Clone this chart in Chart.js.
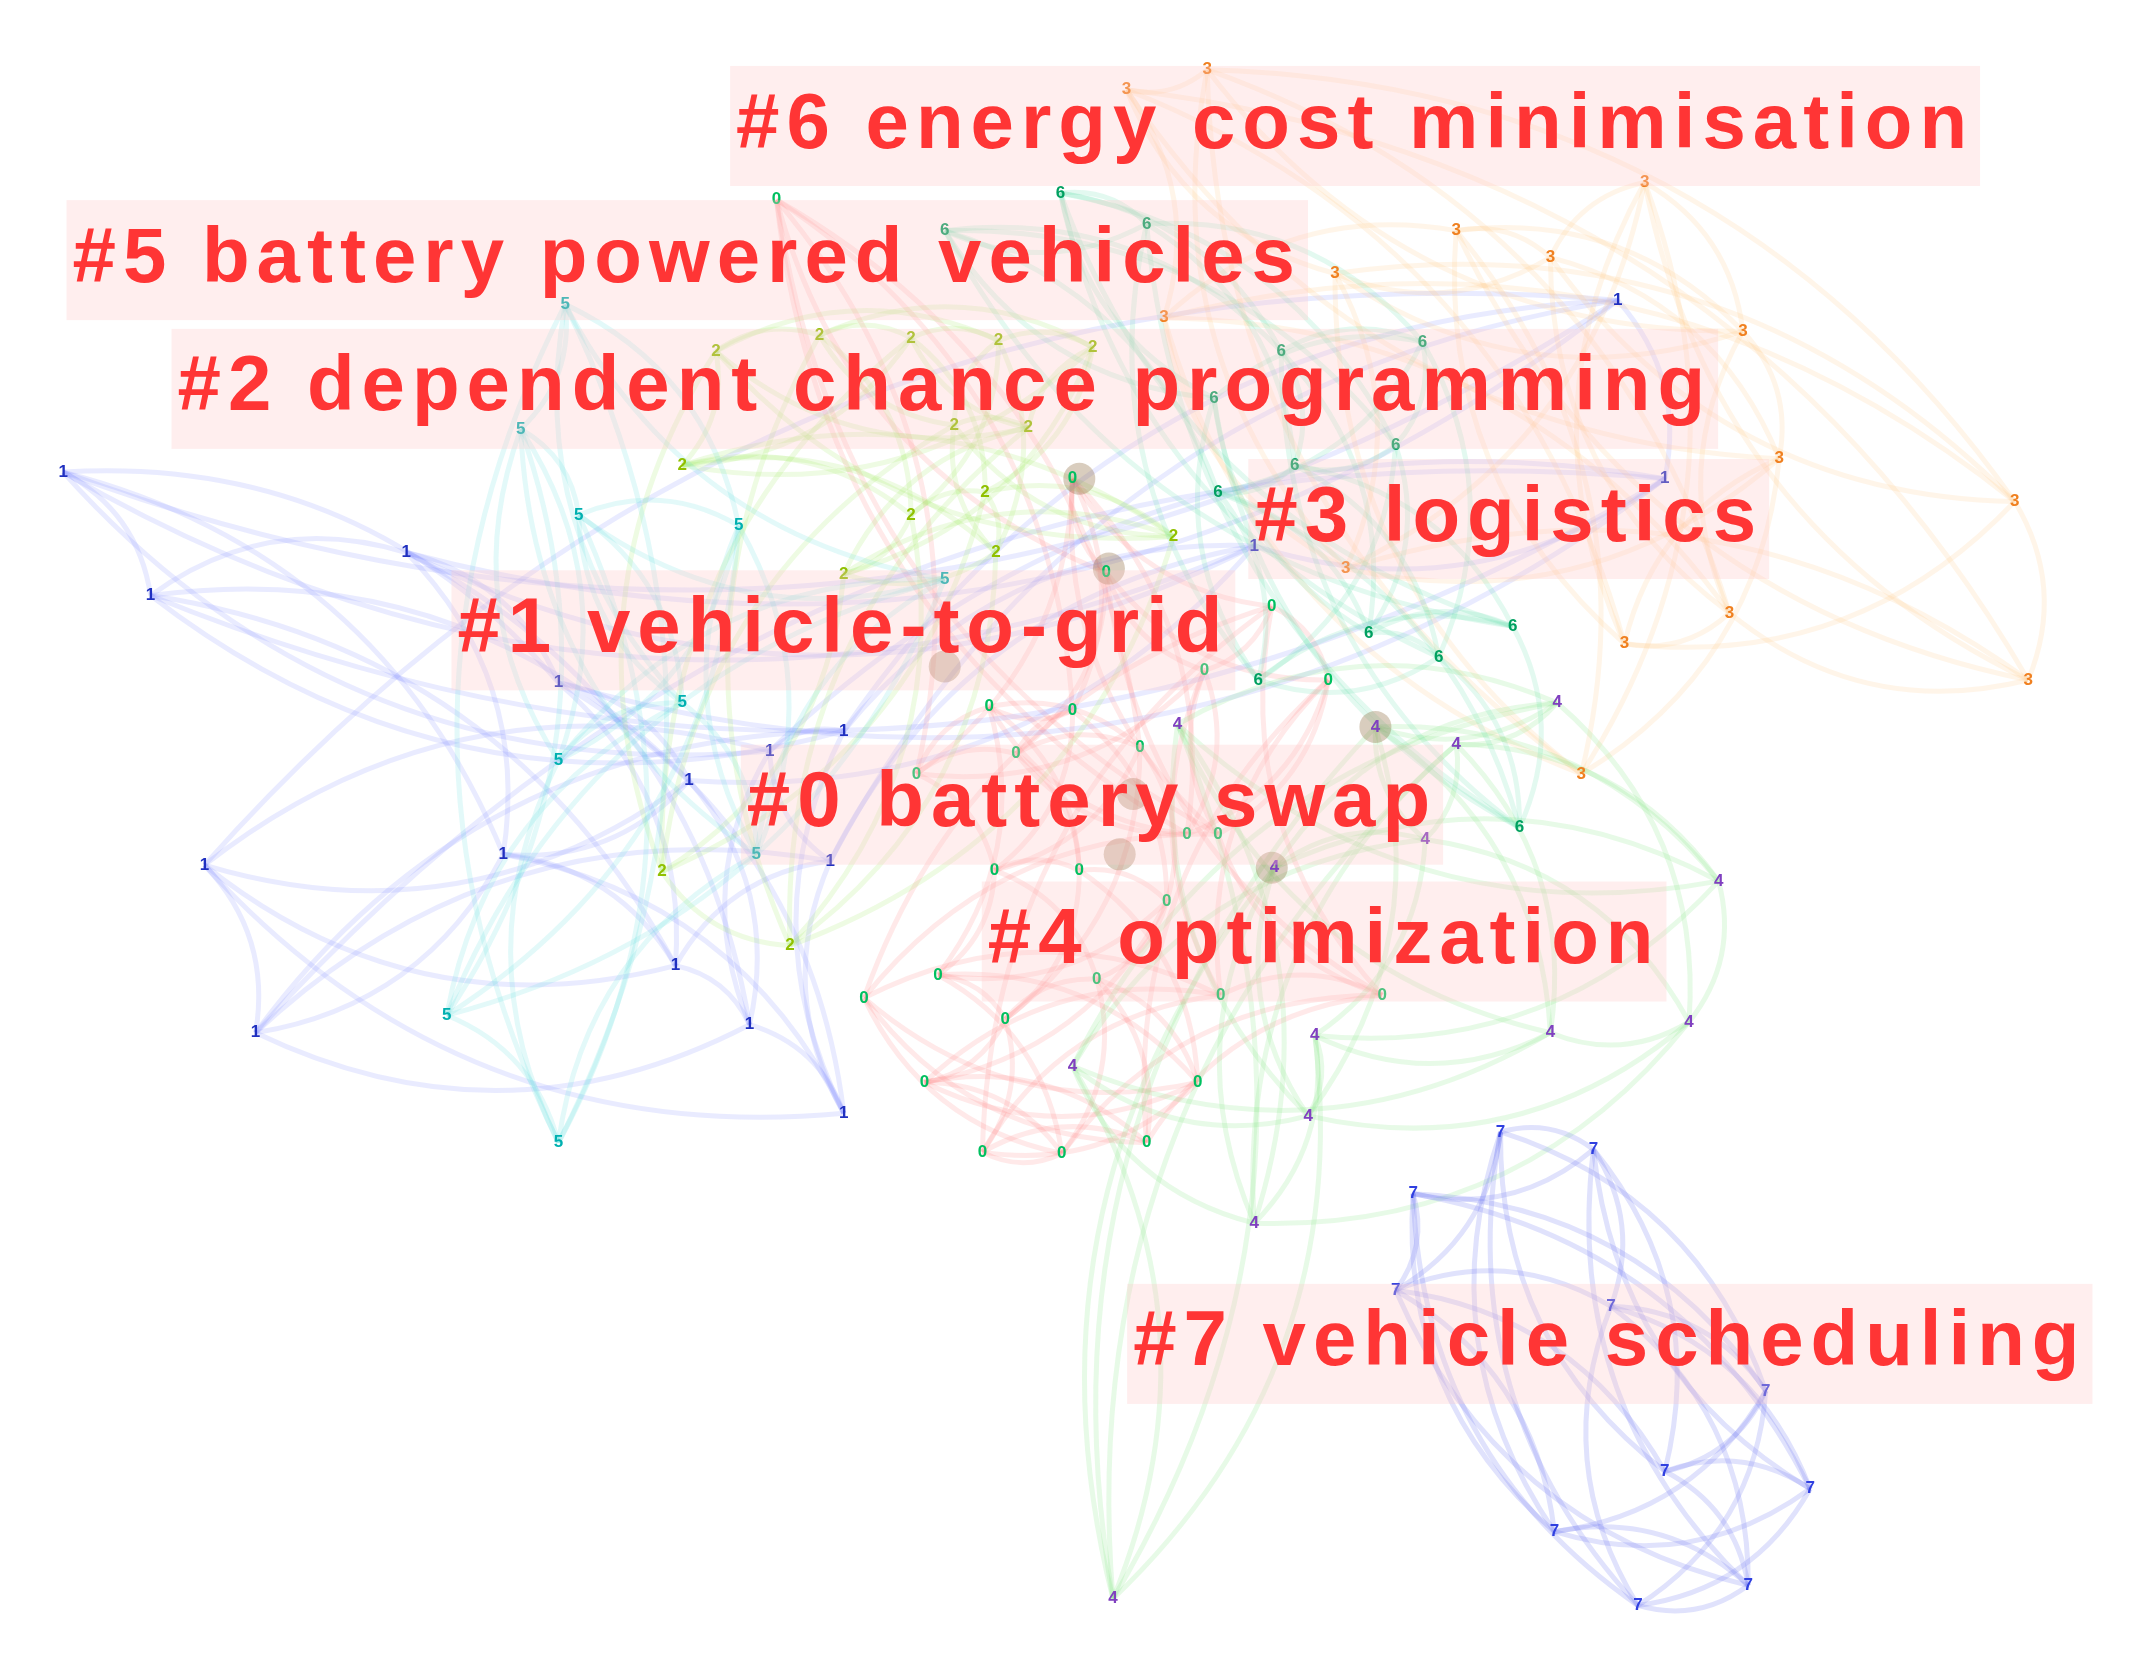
<!DOCTYPE html>
<html>
<head>
<meta charset="utf-8">
<script src="https://cdn.jsdelivr.net/npm/chart.js@4"></script>
<style>
  html, body { margin: 0; padding: 0; background: #fff; }
  #wrap { width: 2129px; height: 1655px; }
</style>
</head>
<body>
<div id="wrap"><canvas id="chart"></canvas></div>
<script>
// cluster nodes (x, y) in picture units, 0..1558 x 0..1210
const c0 = [[565,137],[669,565],[743,550],[785,518],[723,515],[835,545],[727,637],[790,637],[855,660],[685,715],[735,748],[803,718],[878,795],[675,795],[777,848],[718,847],[840,840],[630,732],[895,730],[1015,730],[933,440],[975,495],[893,610],[883,488],[810,415],[785,345],[870,610]];
const c1 = [[35,340],[100,432],[290,400],[403,497],[500,570],[362,625],[490,708],[545,752],[615,818],[140,633],[178,758],[605,630],[560,548],[615,533],[1190,212],[1225,345],[920,395]];
const c2 = [[520,250],[597,238],[665,240],[730,242],[800,247],[495,335],[665,372],[720,355],[728,400],[615,416],[860,388],[575,693],[480,638],[697,305],[752,307]];
const c3 = [[1485,362],[1495,495],[1273,445],[1195,468],[1070,160],[1140,180],[1210,124],[1283,235],[1310,330],[1163,565],[980,192],[988,412],[885,40],[825,55],[853,225]];
const c4 = [[1265,645],[1243,750],[1140,758],[965,760],[960,820],[863,528],[920,900],[785,783],[815,1180],[935,635],[1145,512],[1070,543],[1047,614],[1010,530]];
const c5 = [[408,215],[375,308],[418,372],[537,380],[320,745],[403,840],[403,555],[495,512],[550,625],[690,420]];
const c6 = [[940,250],[1045,243],[1025,320],[950,335],[893,355],[1005,460],[1057,478],[923,495],[1112,455],[1117,605],[890,285],[776,132],[840,155],[690,160]];
const c7 = [[1103,832],[1172,845],[1038,878],[1025,950],[1185,962],[1300,1025],[1225,1085],[1333,1098],[1143,1130],[1287,1170],[1205,1185]];
const clusterNodes = [c0, c1, c2, c3, c4, c5, c6, c7];
const nodeColors = ['#00c060', '#2030c0', '#90c000', '#f08020', '#8040c0', '#00b0b0', '#00a060', '#3040e0'];
const edgeColors = ['rgba(255,120,120,0.16)', 'rgba(120,130,255,0.16)', 'rgba(150,230,80,0.16)', 'rgba(255,190,120,0.16)', 'rgba(120,230,120,0.18)', 'rgba(80,220,220,0.16)', 'rgba(80,220,160,0.16)', 'rgba(100,110,240,0.2)'];

// hubs (blurred centres)
const hubs = [[790,345],[812,412],[690,485],[830,580],[933,635],[1010,530],[820,625]];

// cluster labels: text, left x, centre y
const labelText = ['#6 energy cost minimisation', '#5 battery powered vehicles', '#2 dependent chance programming', '#3 logistics', '#1 vehicle-to-grid', '#0 battery swap', '#4 optimization', '#7 vehicle scheduling'];
const labelX = [535, 42, 120, 920, 328, 543, 722, 830];
const labelY = [82, 182, 278, 375, 458, 588, 690, 990];

const datasets = clusterNodes.map((nodes, i) => ({
  label: '#' + i,
  data: nodes.map(p => ({ x: p[0], y: p[1] })),
  pointRadius: 0
}));
datasets.push({
  label: 'hubs',
  data: hubs.map(p => ({ x: p[0], y: p[1] })),
  pointRadius: 16,
  pointBorderWidth: 0,
  backgroundColor: 'rgba(130,90,40,0.3)'
});

const networkPlugin = {
  id: 'network',
  beforeDatasetsDraw(chart) {
    const c = chart.ctx, xs = chart.scales.x, ys = chart.scales.y;
    c.save();
    c.lineWidth = 5;
    clusterNodes.forEach((nodes, i) => {
      c.strokeStyle = edgeColors[i];
      for (let k = 0; k < nodes.length; k++) {
        const a = nodes[k];
        const targets = [nodes[(k + 1) % nodes.length], nodes[(k + 3) % nodes.length], nodes[(k + 5) % nodes.length]];
        targets.forEach(b => {
          const ax = xs.getPixelForValue(a[0]), ay = ys.getPixelForValue(a[1]);
          const bx = xs.getPixelForValue(b[0]), by = ys.getPixelForValue(b[1]);
          const mx = (ax + bx) / 2 + (by - ay) * 0.25, my = (ay + by) / 2 - (bx - ax) * 0.25;
          c.beginPath();
          c.moveTo(ax, ay);
          c.quadraticCurveTo(mx, my, bx, by);
          c.stroke();
        });
      }
    });
    c.restore();
  },
  afterDatasetsDraw(chart) {
    const c = chart.ctx, xs = chart.scales.x, ys = chart.scales.y;
    c.save();
    c.textAlign = 'center';
    c.textBaseline = 'middle';
    c.font = 'bold 17px "Liberation Sans"';
    clusterNodes.forEach((nodes, i) => {
      c.fillStyle = nodeColors[i];
      nodes.forEach(p => c.fillText(String(i), xs.getPixelForValue(p[0]), ys.getPixelForValue(p[1])));
    });
    c.font = 'bold 78px "Liberation Sans"';
    c.letterSpacing = '7px';
    c.textAlign = 'left';
    labelText.forEach((t, i) => {
      const x = xs.getPixelForValue(labelX[i]), y = ys.getPixelForValue(labelY[i]);
      const w = c.measureText(t).width;
      c.fillStyle = 'rgba(255,200,200,0.3)';
      c.fillRect(x - 6, y - 60, w + 12, 120);
      c.fillStyle = '#ff3535';
      c.fillText(t, x, y);
    });
    c.restore();
  }
};

new Chart(document.getElementById('chart'), {
  type: 'scatter',
  data: { datasets: datasets },
  options: {
    responsive: true,
    maintainAspectRatio: false,
    animation: false,
    layout: { padding: 0 },
    plugins: { legend: { display: false }, tooltip: { enabled: false } },
    scales: {
      x: { min: 0, max: 1558, display: false },
      y: { min: 0, max: 1210, reverse: true, display: false }
    }
  },
  plugins: [networkPlugin]
});
</script>
</body>
</html>
